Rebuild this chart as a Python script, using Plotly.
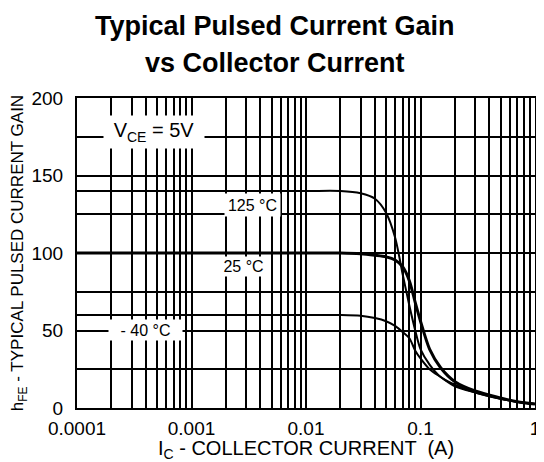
import plotly.graph_objects as go

# Data
current_a = [0.0001, 0.001, 0.01, 0.02, 0.03, 0.04, 0.05, 0.06, 0.07, 0.08,
             0.09, 0.1, 0.12, 0.15, 0.2, 0.3, 0.5, 0.7, 1.0]
gain_125c = [140, 140, 140, 140, 138.5, 135, 126, 110, 86, 66,
             50, 38, 28, 20, 15, 10, 6, 4, 2.5]
gain_25c = [100, 100, 100, 100, 99.5, 98.5, 97.5, 95.5, 91, 82,
            68, 56, 38, 26, 17, 11, 6.5, 4, 2.5]
gain_m40c = [60, 60, 60, 60, 59.5, 58, 56, 53, 49, 45,
             37, 32, 25, 20, 14, 10, 6, 4, 2.5]

x_decades = [0.0001, 0.001, 0.01, 0.1, 1]
x_decade_labels = ["0.0001", "0.001", "0.01", "0.1", "1"]
y_ticks = [0, 25, 50, 75, 100, 125, 150, 175, 200]
y_tick_labels = ["0", "", "50", "", "100", "", "150", "", "200"]

# build log grid ticks (1..9 per decade)
x_tickvals, x_ticktext = [], []
for d, lab in zip(x_decades, x_decade_labels):
    if d == 1:
        x_tickvals.append(d); x_ticktext.append(lab)
        continue
    for m in range(1, 10):
        x_tickvals.append(d * m)
        x_ticktext.append(lab if m == 1 else "")

FONT = "Liberation Sans, Arial, sans-serif"

fig = go.Figure()
for vals, w in [(gain_125c, 2), (gain_25c, 3), (gain_m40c, 2)]:
    fig.add_trace(go.Scatter(x=current_a, y=vals, mode="lines",
                             line=dict(color="black", width=w, shape="spline", smoothing=0.8),
                             showlegend=False, hoverinfo="skip"))

# page body adds an 8px margin, so the figure is 8px smaller
fig.update_layout(
    width=536, height=454,
    margin=dict(l=69, r=4, t=90, b=54),
    paper_bgcolor="white", plot_bgcolor="white",
    font=dict(family=FONT, color="black"),
    showlegend=False,
)
fig.update_xaxes(type="log", range=[-4, 0], tickvals=x_tickvals, ticktext=x_ticktext,
                 showgrid=True, gridcolor="black", gridwidth=1.5,
                 showline=True, linecolor="black", linewidth=2, mirror=True,
                 ticks="", tickfont=dict(size=19, family=FONT), zeroline=False,
                 ticklabelstandoff=2,
                 title=dict(text="I<sub>C</sub> - COLLECTOR CURRENT  (A)",
                            font=dict(size=20, family=FONT), standoff=2))
fig.update_yaxes(range=[0, 200], tickvals=y_ticks, ticktext=y_tick_labels,
                 showgrid=True, gridcolor="black", gridwidth=1.5,
                 showline=True, linecolor="black", linewidth=2, mirror=True,
                 ticks="", tickfont=dict(size=19, family=FONT), zeroline=False,
                 ticklabelstandoff=8,
                 title=dict(text="h<sub>FE</sub> - TYPICAL PULSED CURRENT GAIN",
                            font=dict(size=17, family=FONT), standoff=6))

# Title lines
fig.add_annotation(text="<b>Typical Pulsed Current Gain</b>", xref="paper", yref="paper",
                   x=0.432, y=1.232, xanchor="center", yanchor="middle",
                   showarrow=False, font=dict(size=27, family=FONT))
fig.add_annotation(text="<b>vs Collector Current</b>", xref="paper", yref="paper",
                   x=0.432, y=1.113, xanchor="center", yanchor="middle",
                   showarrow=False, font=dict(size=27, family=FONT))

# Labels with white background boxes
labels = [
    ("V<sub>CE</sub> = 5V", -3.326, 178, 100, 32, 20),
    ("125 °C", -2.467, 131, 55, 22, 16),
    ("25 °C", -2.544, 91.2, 45, 19, 16),
    ("- 40 °C", -3.40, 50.6, 73, 20, 16),
]
for txt, lx, ly, w, h, fs in labels:
    fig.add_annotation(text=txt, x=lx, y=ly, xref="x", yref="y", showarrow=False,
                       bgcolor="white", width=w, height=h, borderpad=0,
                       font=dict(size=fs, family=FONT))

fig.write_html("out.html")
